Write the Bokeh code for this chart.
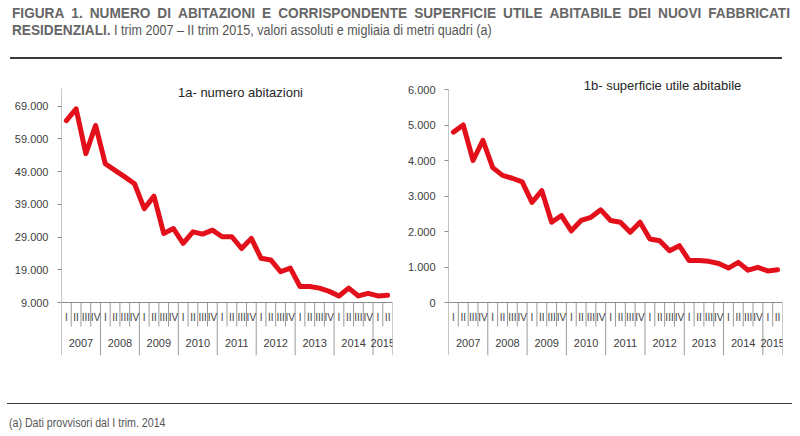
from bokeh.plotting import figure
from bokeh.models import Range1d, FixedTicker, Label, Span, Div
from bokeh.layouts import column, row
from bokeh.core.properties import value
from bokeh.embed import file_html
from bokeh.resources import INLINE

# ---------------- data ----------------
years = ["2007", "2008", "2009", "2010", "2011", "2012", "2013", "2014", "2015"]
quarters_in_year = [4, 4, 4, 4, 4, 4, 4, 4, 2]
quarter_names = ["I", "II", "III", "IV"]

abitazioni = [64600, 68200, 54500, 63100, 51400, 49400, 47400, 45300,
              37700, 41500, 30100, 31600, 27100, 30600, 29900, 31100,
              29100, 29100, 25500, 28600, 22500, 22000, 18400, 19500,
              13900, 13900, 13400, 12400, 11000, 13400, 11000, 11800,
              11000, 11200]
superficie = [4800, 5000, 4000, 4570, 3800, 3580, 3500, 3400,
              2820, 3150, 2260, 2450, 2020, 2310, 2400, 2610,
              2310, 2260, 1980, 2260, 1790, 1740, 1460, 1600,
              1180, 1180, 1160, 1100, 970, 1130, 910, 990,
              890, 920]

ticks_abitazioni = [9000, 19000, 29000, 39000, 49000, 59000, 69000]
ticks_superficie = [0, 1000, 2000, 3000, 4000, 5000, 6000]

title_1a = "1a- numero abitazioni"
title_1b = "1b- superficie utile abitabile"

# ---------------- derived ----------------
q_labels = [quarter_names[q] for n in quarters_in_year for q in range(n)]
xs = list(range(len(q_labels)))
year_bounds = []
year_centers = []
acc = 0
for n in quarters_in_year:
    year_centers.append(acc + (n - 1) / 2)
    acc += n
    year_bounds.append(acc - 0.5)
quarter_bounds = [i - 0.5 for i in range(1, len(xs)) if (i - 0.5) not in year_bounds]

FONT = "Liberation Sans"
FIG_W = 400
FIG_H = 338
TOP = 10
FRAME_H = 285
BOTTOM = FIG_H - TOP - FRAME_H
AXIS_PX = 53
GRAY = "#8c8c8c"
SEP = "#9a9a9a"
RED = "#e3101b"


def fmt(v):
    return f"{v:,}".replace(",", ".")


def make_chart(vals, ticks, ymin, ymax, top_px, title, left, right, tx, ty):
    frame_w = FIG_W - left - right
    per_px = (ymax - ymin) / (top_px - AXIS_PX)
    ystart = ymin - AXIS_PX * per_px
    yend = ymin + (FRAME_H - AXIS_PX) * per_px
    p = figure(width=FIG_W, height=FIG_H, output_backend="svg", toolbar_location=None,
               x_range=Range1d(-0.5, len(vals) - 0.5), y_range=Range1d(ystart, yend),
               x_axis_location=None, min_border_left=left, min_border_right=right,
               min_border_top=TOP, min_border_bottom=BOTTOM)
    p.extra_x_ranges = {"px": Range1d(0, frame_w)}
    p.extra_y_ranges = {"px": Range1d(0, FRAME_H)}
    p.outline_line_color = None
    p.xgrid.visible = False
    p.ygrid.visible = False
    p.background_fill_color = "white"
    p.border_fill_color = "white"

    ax = p.yaxis[0]
    ax.ticker = FixedTicker(ticks=ticks)
    ax.major_label_overrides = {t: fmt(t) for t in ticks}
    ax.axis_line_color = None
    ax.major_tick_line_color = GRAY
    ax.major_tick_out = 4
    ax.major_tick_in = 0
    ax.minor_tick_line_color = None
    ax.major_label_standoff = 9
    ax.major_label_text_font = FONT
    ax.major_label_text_font_size = "11px"
    ax.major_label_text_color = "#404040"

    # vertical axis line (runs from the label area up to the top tick)
    p.segment(x0=[-0.5], x1=[-0.5], y0=[0], y1=[top_px], y_range_name="px",
              line_color=GRAY, line_width=1)
    # horizontal axis line
    p.add_layout(Span(location=ymin, dimension="width", line_color=GRAY, line_width=1))

    # separators
    p.segment(x0=quarter_bounds, x1=quarter_bounds,
              y0=[AXIS_PX] * len(quarter_bounds), y1=[AXIS_PX - 24] * len(quarter_bounds),
              y_range_name="px", line_color=SEP, line_width=1)
    p.segment(x0=year_bounds, x1=year_bounds,
              y0=[AXIS_PX] * len(year_bounds), y1=[0] * len(year_bounds),
              y_range_name="px", line_color=SEP, line_width=1)

    p.text(x=xs, y=[AXIS_PX - 15] * len(xs), text=q_labels, y_range_name="px",
           text_align="center", text_baseline="middle", text_font=value(FONT),
           text_font_size="10px", text_color="#404040")
    p.text(x=year_centers, y=[AXIS_PX - 40] * len(years), text=years, y_range_name="px",
           text_align="center", text_baseline="middle", text_font=value(FONT),
           text_font_size="11px", text_color="#404040")

    p.line(xs, vals, line_color=RED, line_width=5, line_join="round", line_cap="round")

    p.add_layout(Label(x=tx, y=ty, x_range_name="px", y_range_name="px", text=title,
                       text_align="center", text_baseline="middle", text_font=FONT,
                       text_font_size="13px", text_color="#262626"))
    return p


p1 = make_chart(abitazioni, ticks_abitazioni, 9000, 74400, 267, title_1a, 61, 8, 179, 263)
p2 = make_chart(superficie, ticks_superficie, 0, 6000, 266, title_1b, 48, 18, 214, 270)

SANS = "'Liberation Sans',Arial,sans-serif"
line1 = "FIGURA 1. NUMERO DI ABITAZIONI E CORRISPONDENTE SUPERFICIE UTILE ABITABILE DEI NUOVI FABBRICATI"
spans = "".join(f"<span>{w}</span>" for w in line1.split(" "))
title_html = (
    f"<div style=\"position:relative;width:800px;height:60px;font-family:{SANS};color:#666666;\">"
    f"<div style=\"position:absolute;top:4px;left:12px;width:855px;display:flex;justify-content:space-between;"
    f"font-size:15px;line-height:17px;font-weight:bold;white-space:nowrap;"
    f"transform:scaleX(0.91);transform-origin:0 50%;\">{spans}</div>"
    f"<div style=\"position:absolute;top:21px;left:12px;white-space:nowrap;line-height:17px;"
    f"transform:scaleX(0.91);transform-origin:0 50%;\">"
    f"<span style=\"font-size:15px;font-weight:bold;\">RESIDENZIALI.</span>"
    f"<span style=\"font-size:13.8px;color:#555555;\"> I trim 2007 – II trim 2015, valori assoluti e migliaia di metri quadri (a)</span></div>"
    f"<div style=\"position:absolute;top:57px;left:10px;width:772px;height:0;border-top:2px solid #3a3a3a;\"></div>"
    f"</div>"
)
foot_html = (
    f"<div style=\"position:relative;width:800px;height:38px;font-family:{SANS};color:#555555;\">"
    f"<div style=\"position:absolute;top:5px;left:7px;width:785px;height:0;border-top:1.5px solid #3a3a3a;\"></div>"
    f"<div style=\"position:absolute;top:18px;left:9px;font-size:12.5px;line-height:14px;white-space:nowrap;"
    f"transform:scaleX(0.85);transform-origin:0 50%;\">"
    f"(a) Dati provvisori dal I trim. 2014</div></div>"
)

title_div = Div(text=title_html, width=800, height=60, margin=0)
foot_div = Div(text=foot_html, width=800, height=38, margin=0)

layout = column(title_div, row(p1, p2), foot_div)

open("out.html", "w").write(file_html(layout, INLINE))
